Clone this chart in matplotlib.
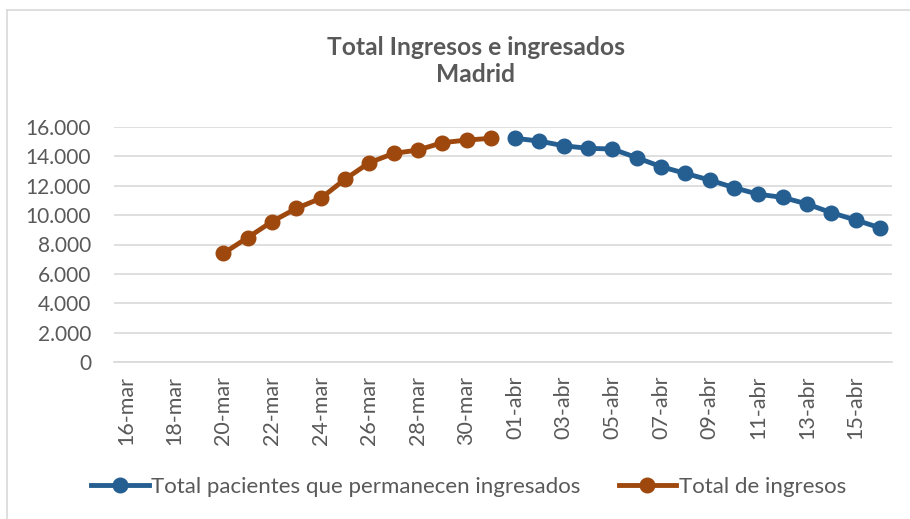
import numpy as np
import matplotlib.pyplot as plt
from matplotlib.lines import Line2D
from matplotlib.ticker import FuncFormatter

plt.rcParams['font.family'] = ['Lato', 'DejaVu Sans']

# categories: 16-mar .. 16-abr
dias = [f"{d}-mar" for d in range(16, 32)] + [f"{d:02d}-abr" for d in range(1, 17)]

# Total de ingresos: 20-mar .. 31-mar
ingresos = [7400, 8470, 9560, 10460, 11140, 12440, 13570, 14200, 14430, 14930, 15110, 15230]
ingresos_start = dias.index("20-mar")

# Total pacientes que permanecen ingresados: 01-abr .. 16-abr
permanecen = [15230, 15040, 14720, 14550, 14500, 13910, 13300, 12840,
              12390, 11870, 11420, 11210, 10760, 10170, 9670, 9140]
permanecen_start = dias.index("01-abr")

blue = "#255E91"
orange = "#9E480E"
gray_txt = "#595959"

fig = plt.figure(figsize=(9.1, 5.19), dpi=100)
ax = fig.add_axes([114 / 910, 1 - 362 / 519, (892 - 114) / 910, (362 - 127) / 519])

x = np.arange(len(dias))
ax.plot(x[permanecen_start:permanecen_start + len(permanecen)], permanecen,
        color=blue, lw=3.5, marker='o', ms=10.5, zorder=3)
ax.plot(x[ingresos_start:ingresos_start + len(ingresos)], ingresos,
        color=orange, lw=3.5, marker='o', ms=10.5, zorder=3)

ax.set_xlim(-0.5, len(dias) - 0.5)
ax.set_ylim(0, 16000)
ax.set_yticks(np.arange(0, 16001, 2000))
ax.yaxis.set_major_formatter(FuncFormatter(lambda v, p: f"{int(v):,}".replace(",", ".")))
ax.set_xticks(x[::2])
ax.set_xticklabels(dias[::2], rotation=90)
ax.grid(axis='y', color='#D9D9D9', lw=1.2)
ax.set_axisbelow(True)
for s in ['top', 'right', 'left']:
    ax.spines[s].set_visible(False)
ax.spines['bottom'].set_color('#D9D9D9')
ax.spines['bottom'].set_linewidth(1.2)
ax.tick_params(axis='y', length=0, labelsize=15, colors=gray_txt, pad=16.5)
ax.tick_params(axis='x', length=0, labelsize=15.5, colors=gray_txt, pad=10)

fig.text(0.523, 1 - 61 / 519, "Total Ingresos e ingresados\nMadrid", ha='center', va='center',
         fontsize=17.7, fontweight='bold', color=gray_txt, linespacing=1.25)

handles = [Line2D([], [], color=blue, lw=3.5, marker='o', ms=10.5),
           Line2D([], [], color=orange, lw=3.5, marker='o', ms=10.5)]
fig.legend(handles, ["Total pacientes que permanecen ingresados", "Total de ingresos"],
           loc='center', bbox_to_anchor=(0.515, 1 - 487 / 519), ncol=2, frameon=False,
           fontsize=16, labelcolor=gray_txt, handlelength=2.6, handletextpad=0.1,
           columnspacing=1.7)

# chart border (left and top visible)
fig.add_artist(Line2D([7 / 910, 7 / 910], [0, 1 - 9.5 / 519], transform=fig.transFigure,
                      color='#D9D9D9', lw=1.2))
fig.add_artist(Line2D([7 / 910, 1], [1 - 9.5 / 519, 1 - 9.5 / 519], transform=fig.transFigure,
                      color='#D9D9D9', lw=1.2))

fig.savefig("out.png", dpi=100)
